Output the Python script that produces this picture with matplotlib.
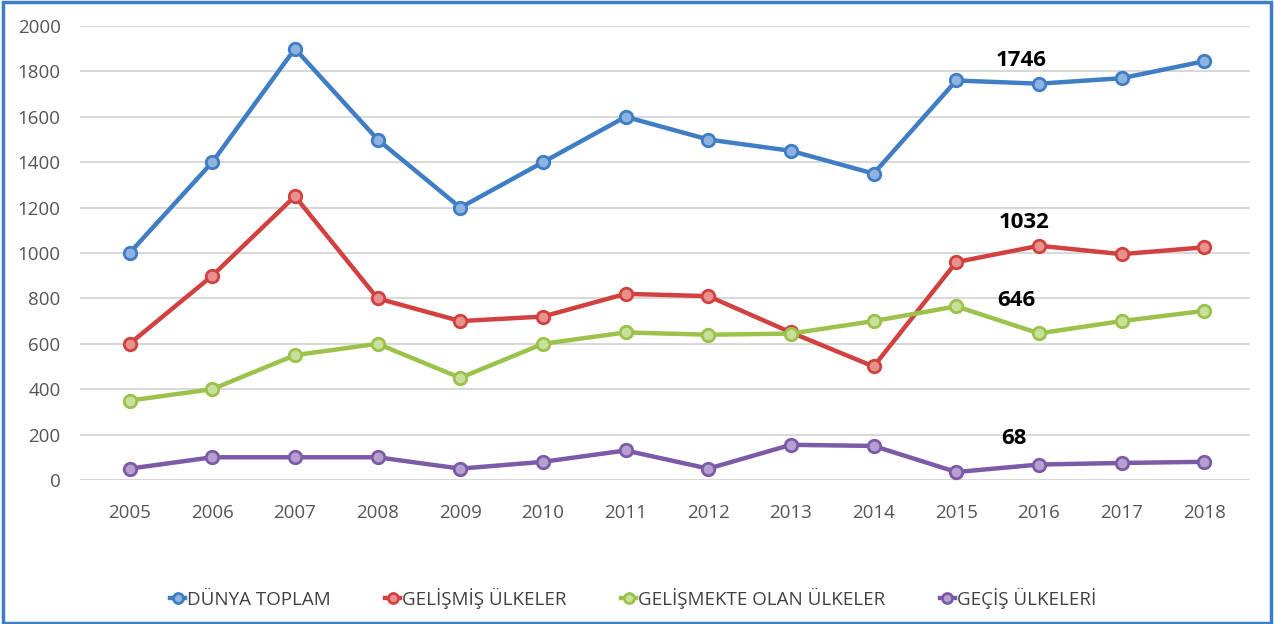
import matplotlib.pyplot as plt
from matplotlib.patches import Rectangle

years = [2005, 2006, 2007, 2008, 2009, 2010, 2011, 2012, 2013, 2014, 2015, 2016, 2017, 2018]

dunya = [1000, 1400, 1900, 1500, 1200, 1400, 1600, 1500, 1450, 1350, 1760, 1746, 1770, 1845]
gelismis = [600, 900, 1250, 800, 700, 720, 820, 810, 650, 500, 960, 1032, 995, 1025]
gelismekte = [350, 400, 550, 600, 450, 600, 650, 640, 645, 700, 765, 646, 700, 745]
gecis = [50, 100, 100, 100, 50, 80, 130, 50, 155, 150, 35, 68, 75, 80]

SERIES = [
    ("DÜNYA TOPLAM", dunya, "#3f7dc4", "#8fb3e0"),
    ("GELİŞMİŞ ÜLKELER", gelismis, "#d0413f", "#e89290"),
    ("GELİŞMEKTE OLAN ÜLKELER", gelismekte, "#9bc24a", "#c9e09c"),
    ("GEÇİŞ ÜLKELERİ", gecis, "#7d5aa8", "#b5a0d0"),
]

# labelled values at 2016, with offsets in points
LABEL_YEAR = 2016
LABEL_OFFSETS = [(-13, 17), (-11, 17), (-16, 24), (-18, 19)]

plt.rcParams["font.family"] = ["Open Sans", "DejaVu Sans"]

fig = plt.figure(figsize=(12.74, 6.24), dpi=100)
ax = fig.add_axes([0.0628, 0.2308, 0.9182, 0.7275])

x = list(range(len(years)))
for (name, vals, color, face), off in zip(SERIES, LABEL_OFFSETS):
    ax.plot(x, vals, color=color, linewidth=3.2, marker="o", markersize=9,
            markerfacecolor=face, markeredgecolor=color, markeredgewidth=2,
            label=name, zorder=3)
    i = years.index(LABEL_YEAR)
    ax.annotate(str(vals[i]), (x[i], vals[i]), xytext=off, textcoords="offset points",
                ha="center", va="center", fontsize=16, fontweight="bold", color="black")

ax.set_xlim(-0.6, len(years) - 0.45)
ax.set_ylim(0, 2000)
ax.set_yticks(range(0, 2001, 200))
ax.set_xticks(x)
ax.set_xticklabels([str(y) for y in years])
ax.grid(axis="y", color="#d9d9d9", linewidth=1.5)
ax.set_axisbelow(True)
for s in ax.spines.values():
    s.set_visible(False)
ax.tick_params(length=0, labelsize=13.5, labelcolor="#555555")
ax.tick_params(axis="x", pad=17)
ax.tick_params(axis="y", pad=14)

fig.legend(loc="center", bbox_to_anchor=(0.497, 0.041), ncol=4, frameon=False,
           fontsize=13.5, labelcolor="#404040", handlelength=0.8, handletextpad=0.1,
           columnspacing=2.9, markerscale=0.8)

fig.patches.append(Rectangle((0.002, 0.002), 0.996, 0.995, transform=fig.transFigure,
                             fill=False, edgecolor="#3c7dc4", linewidth=2.5))

fig.savefig("out.png", dpi=100)
